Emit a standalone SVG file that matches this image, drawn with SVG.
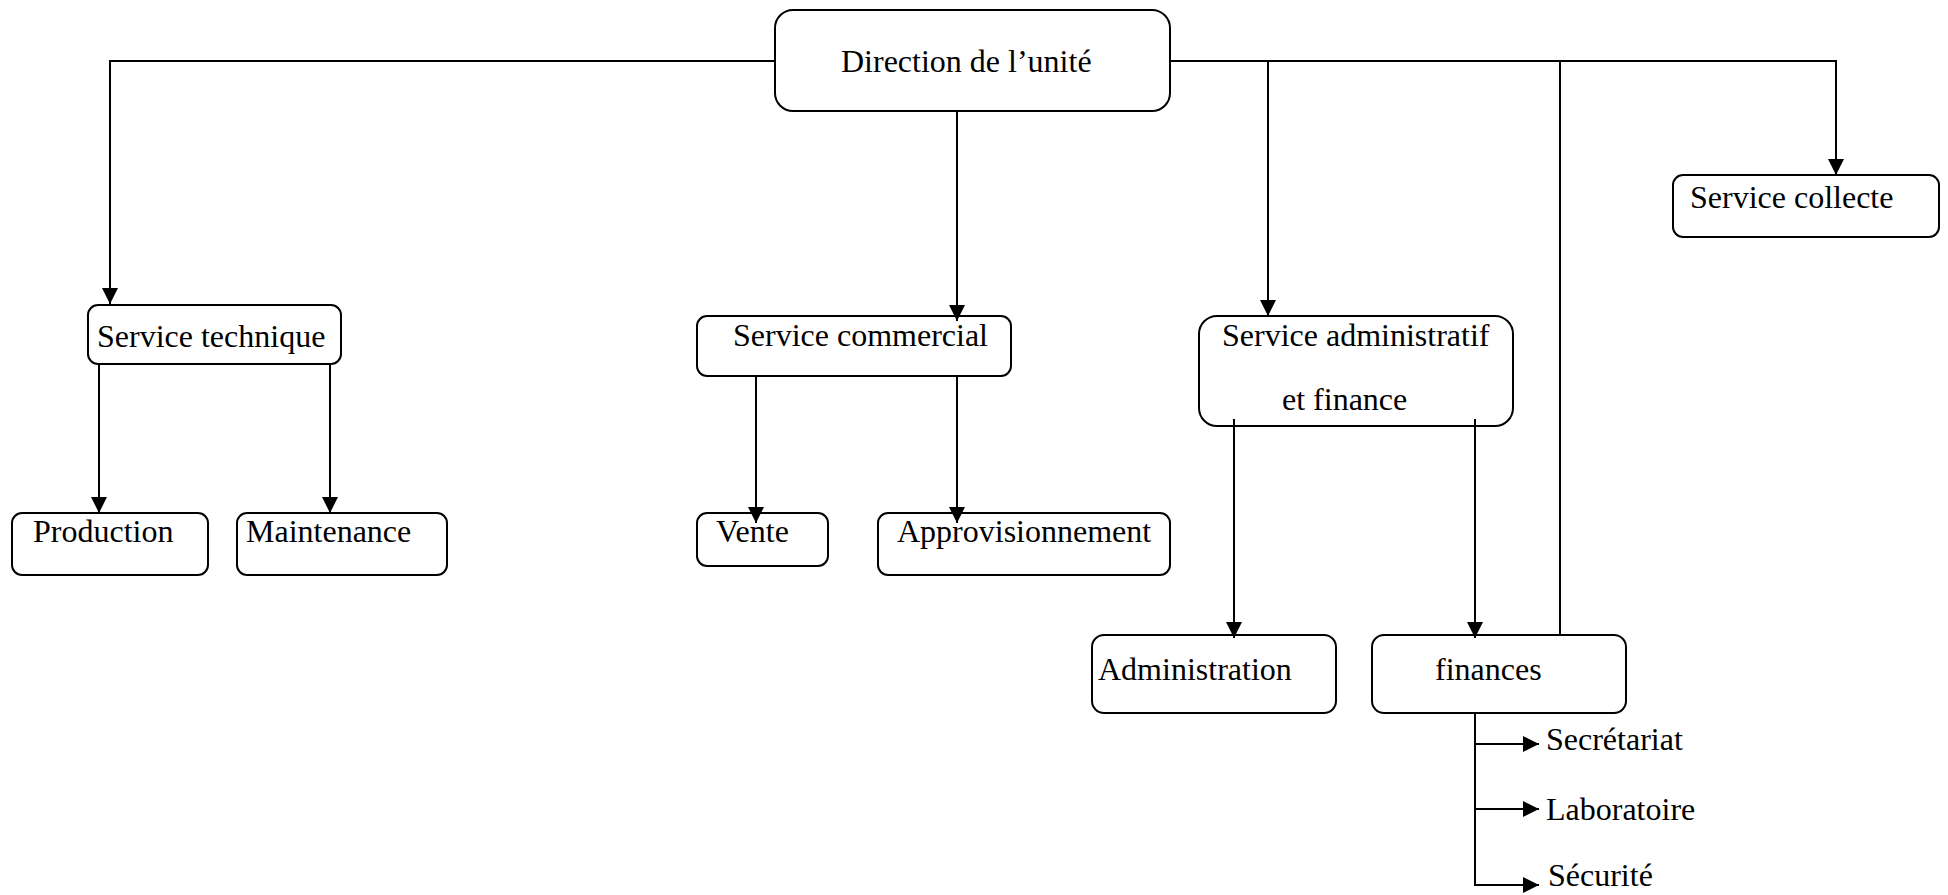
<svg xmlns="http://www.w3.org/2000/svg" width="1948" height="895" viewBox="0 0 1948 895">
<style>
.box{fill:#fff;stroke:#000;stroke-width:2}
.t{font-family:"Liberation Serif","Times New Roman",serif;font-size:32px;fill:#000}
.c{fill:none;stroke:#000;stroke-width:2}
</style>
<defs>
<marker id="ah" markerUnits="userSpaceOnUse" markerWidth="16" markerHeight="16" refX="16" refY="8" orient="auto">
<path d="M0,0 L16,8 L0,16 z" fill="#000"/>
</marker>
</defs>
<rect width="1948" height="895" fill="#fff"/>
<g id="direction"><rect class="box" x="775" y="10" width="395" height="101" rx="18"/><text class="t" x="841" y="72">Direction de l’unité</text></g>
<g id="service-technique"><rect class="box" x="88" y="305" width="253" height="59" rx="10"/><text class="t" x="97" y="347">Service technique</text></g>
<g id="production"><rect class="box" x="12" y="513" width="196" height="62" rx="10"/><text class="t" x="33" y="542">Production</text></g>
<g id="maintenance"><rect class="box" x="237" y="513" width="210" height="62" rx="10"/><text class="t" x="246" y="542">Maintenance</text></g>
<g id="service-commercial"><rect class="box" x="697" y="316" width="314" height="60" rx="10"/><text class="t" x="733" y="346">Service commercial</text></g>
<g id="vente"><rect class="box" x="697" y="513" width="131" height="53" rx="10"/><text class="t" x="716" y="542">Vente</text></g>
<g id="approvisionnement"><rect class="box" x="878" y="513" width="292" height="62" rx="10"/><text class="t" x="897" y="542">Approvisionnement</text></g>
<g id="service-administratif"><rect class="box" x="1199" y="316" width="314" height="110" rx="18"/><text class="t" x="1222" y="346">Service administratif</text><text class="t" x="1282" y="410">et finance</text></g>
<g id="administration"><rect class="box" x="1092" y="635" width="244" height="78" rx="12"/><text class="t" x="1098" y="680">Administration</text></g>
<g id="finances"><rect class="box" x="1372" y="635" width="254" height="78" rx="12"/><text class="t" x="1435" y="680">finances</text></g>
<g id="service-collecte"><rect class="box" x="1673" y="175" width="266" height="62" rx="10"/><text class="t" x="1690" y="208">Service collecte</text></g>
<g id="secretariat"><text class="t" x="1546" y="750">Secrétariat</text></g>
<g id="laboratoire"><text class="t" x="1546" y="820">Laboratoire</text></g>
<g id="securite"><text class="t" x="1548" y="886">Sécurité</text></g>
<g id="connectors">
<polyline class="c" points="775,61 110,61 110,304" marker-end="url(#ah)"/>
<polyline class="c" points="1170,61 1836,61 1836,175" marker-end="url(#ah)"/>
<line class="c" x1="1268" y1="61" x2="1268" y2="316" marker-end="url(#ah)"/>
<line class="c" x1="1560" y1="61" x2="1560" y2="635"/>
<line class="c" x1="957" y1="111" x2="957" y2="321" marker-end="url(#ah)"/>
<line class="c" x1="99" y1="364" x2="99" y2="513" marker-end="url(#ah)"/>
<line class="c" x1="330" y1="364" x2="330" y2="513" marker-end="url(#ah)"/>
<line class="c" x1="756" y1="376" x2="756" y2="523" marker-end="url(#ah)"/>
<line class="c" x1="957" y1="376" x2="957" y2="523" marker-end="url(#ah)"/>
<line class="c" x1="1234" y1="419" x2="1234" y2="638" marker-end="url(#ah)"/>
<line class="c" x1="1475" y1="419" x2="1475" y2="638" marker-end="url(#ah)"/>
<polyline class="c" points="1475,713 1475,885 1539,885" marker-end="url(#ah)"/>
<line class="c" x1="1475" y1="744" x2="1539" y2="744" marker-end="url(#ah)"/>
<line class="c" x1="1475" y1="809" x2="1539" y2="809" marker-end="url(#ah)"/>
</g>
</svg>
